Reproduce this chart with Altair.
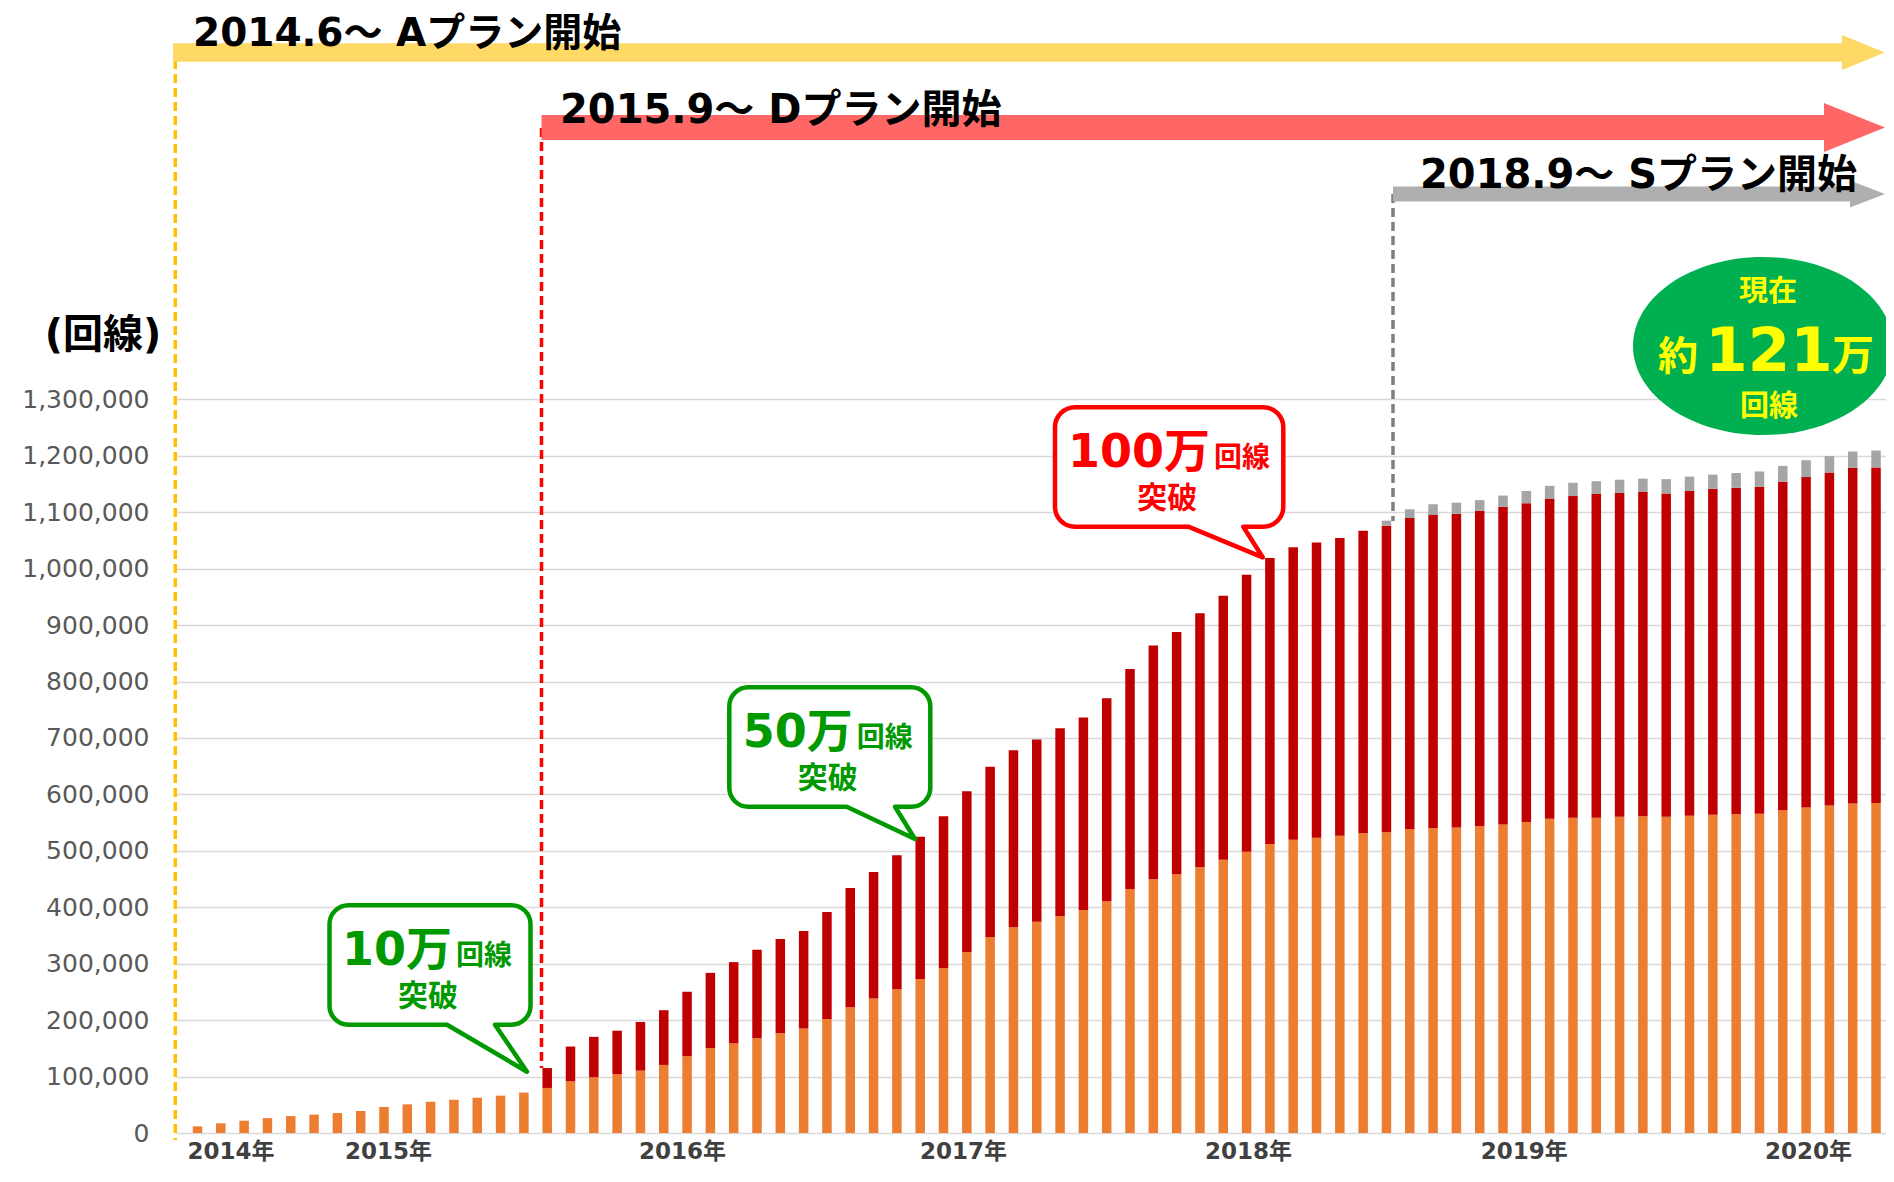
import altair as alt
import pandas as pd

# ---------------- data ----------------
start_year, start_month = 2014, 6          # first bar = 2014.6, one bar per month
plan_a = [11800, 17200, 21800, 26300, 29900, 32600, 35400, 39000, 46200, 50800,
          55300, 58900, 62600, 66200, 71600, 79800, 91600, 98800, 104300, 110600,
          120600, 136000, 150500, 158700, 167700, 176800, 185000, 202200, 223000, 238400,
          254800, 272900, 291900, 320900, 347200, 364500, 374400, 384400, 395300, 410700,
          432500, 449700, 458700, 471400, 484100, 498600, 512200, 519500, 523100, 526700,
          531300, 533100, 538500, 540300, 541300, 544000, 546700, 551200, 556700, 558500,
          558500, 560300, 561200, 560300, 562100, 563900, 564800, 565700, 572100, 576600,
          580200, 583900, 584800]
d_start = 15   # 2015.9
plan_d = [35300, 61600, 71600, 77000, 86100, 97000, 114200, 133300, 144100, 156900,
          166800, 173100, 189500, 211300, 224000, 237500, 252000, 269300, 284700, 301900,
          313600, 322800, 332700, 340900, 359900, 389800, 414300, 428900, 449700, 467800,
          490500, 506800, 518600, 523100, 527700, 535800, 543000, 551300, 554900, 555700,
          558400, 563000, 564800, 567500, 570200, 573900, 573900, 574800, 573000, 575700,
          577500, 578400, 579400, 582000, 585700, 590200, 594700, 594700]
s_start = 51   # 2018.9
plan_s = [9000, 15400, 19000, 20000, 19100, 19900, 21800, 22600, 23600, 22600,
          23500, 23600, 25400, 25400, 25400, 26300, 27200, 28100, 29900, 29100,
          29000, 29900]
plan_names = ["A", "D", "S"]
plan_colors = ["#ED7D31", "#C00000", "#A5A5A5"]
y_ticks = list(range(0, 1300001, 100000))
year_labels = ["2014年", "2015年", "2016年", "2017年", "2018年", "2019年", "2020年"]
year_label_pos = [1.44, 8.19, 20.8, 32.86, 45.08, 56.91, 69.1]   # in bar-index units

# ---------------- table ----------------
rows = []
for i, v in enumerate(plan_a):
    y, m = start_year + (start_month - 1 + i) // 12, (start_month - 1 + i) % 12 + 1
    rows.append({"idx": i, "month": f"{y}.{m}", "plan": "A", "ord": 0, "value": v})
for j, v in enumerate(plan_d):
    rows.append({"idx": d_start + j, "plan": "D", "ord": 1, "value": v})
for j, v in enumerate(plan_s):
    rows.append({"idx": s_start + j, "plan": "S", "ord": 2, "value": v})
df = pd.DataFrame(rows)

# ---------------- geometry ----------------
FONT = "DejaVu Sans, Noto Sans CJK JP"
PLOT_LEFT, PLOT_TOP = 176, 8          # page coordinates of the plot origin
W, H = 1710, 1125                      # canvas = 1878 x 1160
PAD = {"left": PLOT_LEFT - 8, "top": PLOT_TOP - 8, "right": 0, "bottom": 35}
first_bar, step = 192.6, 23.45
x_dom = [-(first_bar - PLOT_LEFT) / step, (W - (first_bar - PLOT_LEFT)) / step]
y_max = H * 1300000 / 733.6
x_scale = alt.Scale(domain=x_dom, nice=False, zero=False)
y_scale = alt.Scale(domain=[0, y_max], nice=False, zero=True)
RIGHT = 1885                           # arrow tips


def PX(x):
    return x - PLOT_LEFT


def PY(y):
    return y - PLOT_TOP


one = pd.DataFrame({"k": [0]})


def text(s, x, y, size, color, align="center", baseline="alphabetic"):
    return alt.Chart(one).mark_text(
        text=s, align=align, baseline=baseline, fontSize=size, fontWeight="bold",
        font=FONT, color=color).encode(x=alt.value(PX(x)), y=alt.value(PY(y)))


def shape(path, x, y, fill, stroke=None, sw=0):
    kw = dict(shape=path, size=4, filled=True, fill=fill, opacity=1, fillOpacity=1)
    if stroke:
        kw.update(stroke=stroke, strokeWidth=sw, strokeOpacity=1, strokeJoin="round")
    return alt.Chart(one).mark_point(**kw).encode(x=alt.value(PX(x)), y=alt.value(PY(y)))


def dashed(x, y1, y2, color):
    return alt.Chart(one).mark_rule(color=color, strokeWidth=3.5, strokeDash=[9, 5]).encode(
        x=alt.value(PX(x)), y=alt.value(PY(y1)), y2=alt.value(PY(y2)))


def arrow_path(length, t, hl, hh):
    b = length - hl
    return (f"M 0 {-t/2} L {b} {-t/2} L {b} {-hh} L {length} 0 L {b} {hh} "
            f"L {b} {t/2} L 0 {t/2} Z")


def ellipse_path(rx, ry):
    k = 0.5523
    return (f"M {-rx} 0 C {-rx} {-k*ry} {-k*rx} {-ry} 0 {-ry} "
            f"C {k*rx} {-ry} {rx} {-k*ry} {rx} 0 "
            f"C {rx} {k*ry} {k*rx} {ry} 0 {ry} "
            f"C {-k*rx} {ry} {-rx} {k*ry} {-rx} 0 Z")


def bubble_path(w, h, r, a, b, tx, ty):
    k = 0.5523 * r
    return (f"M {r} 0 L {w-r} 0 C {w-r+k} 0 {w} {r-k} {w} {r} "
            f"L {w} {h-r} C {w} {h-r+k} {w-r+k} {h} {w-r} {h} "
            f"L {b} {h} L {tx} {ty} L {a} {h} "
            f"L {r} {h} C {r-k} {h} 0 {h-r+k} 0 {h-r} "
            f"L 0 {r} C 0 {r-k} {r-k} 0 {r} 0 Z")


# ---------------- bars ----------------
bars = alt.Chart(df).mark_bar(size=9.5).encode(
    x=alt.X("idx:Q", scale=x_scale, axis=None),
    y=alt.Y("value:Q", stack="zero", scale=y_scale,
            axis=alt.Axis(values=y_ticks, format=",.0f", title=None, grid=True,
                          gridColor="#D9D9D9", gridWidth=1.5, domain=False, ticks=False,
                          labelFont="DejaVu Sans", labelFontSize=25, labelColor="#595959",
                          labelPadding=27)),
    color=alt.Color("plan:N", scale=alt.Scale(domain=plan_names, range=plan_colors), legend=None),
    order=alt.Order("ord:Q", sort="ascending"),
)

year_df = pd.DataFrame({"label": year_labels, "pos": year_label_pos})
years = alt.Chart(year_df).mark_text(
    baseline="alphabetic", fontSize=23, fontWeight="bold", font=FONT, color="#404040"
).encode(x=alt.X("pos:Q", scale=x_scale, axis=None), y=alt.value(PY(1159)), text="label:N")

layers = [bars, years]

# dashed start lines
layers += [
    dashed(175.3, 60, 1140, "#FFC000"),
    dashed(541.5, 128, 1068, "#FF0000"),
    dashed(1393, 194, 521, "#7F7F7F"),
]

# plan arrows
layers += [
    shape(arrow_path(RIGHT - 173, 18.4, 43, 17.5), 173, 52.5, "#FFD966"),
    shape(arrow_path(RIGHT - 541.5, 25, 61, 24.5), 541.5, 127.5, "#FF6666"),
    shape(arrow_path(RIGHT - 1393, 15, 35, 13.5), 1393, 194, "#AFAFAF"),
    text("2014.6～ Aプラン開始", 193, 46, 39, "#000000", align="left"),
    text("2015.9～ Dプラン開始", 560, 123, 40, "#000000", align="left"),
    text("2018.9～ Sプラン開始", 1420, 188, 40, "#000000", align="left"),
]

# y axis unit
layers.append(text("(回線)", 103, 348, 40, "#000000"))

# current total ellipse
EX = 1763
layers += [
    shape(ellipse_path(130, 89), EX, 346, "#00B050"),
    text("現在", EX + 5, 301, 29, "#FFFF00"),
    text("約", EX - 85, 370, 40, "#FFFF00"),
    text("121", EX + 6, 371, 61, "#FFFF00"),
    text("万", EX + 90, 370, 42, "#FFFF00"),
    text("回線", EX + 6, 416, 29, "#FFFF00"),
]

# milestone bubbles
GREEN, RED = "#009900", "#FF0000"
bubbles = [
    # left, top, w, h, r, tail a, tail b, tip x, tip y, split offset, number, colour
    (329.5, 905.2, 201, 119.5, 19, 117.5, 165.5, 197.5, 166.5, 123.5, "10万", GREEN),
    (729.3, 687.3, 201, 119.5, 19, 117.4, 165.7, 185.7, 151.7, 124.5, "50万", GREEN),
    (1055.0, 407.3, 228.3, 119.4, 20, 133.3, 188.3, 207.7, 150.0, 156.0, "100万", RED),
]
for (l, t, w, h, r, a, b, tx, ty, sp, num, col) in bubbles:
    layers += [
        shape(bubble_path(w, h, r, a, b, tx, ty), l, t, "#FFFFFF", col, 4.5),
        text(num, l + sp - 1, t + 59.5, 46, col, align="right"),
        text("回線", l + sp + 3, t + 59.5, 28, col, align="left"),
        text("突破", l + w / 2 - 2, t + 100.5, 30, col),
    ]

chart = alt.layer(*layers).properties(
    width=W, height=H,
    autosize=alt.AutoSizeParams(type="none"),
    padding=PAD,
    background="#FFFFFF",
).configure_view(strokeWidth=0)

chart.save("out.html", embed_options={"renderer": "svg", "actions": False})
